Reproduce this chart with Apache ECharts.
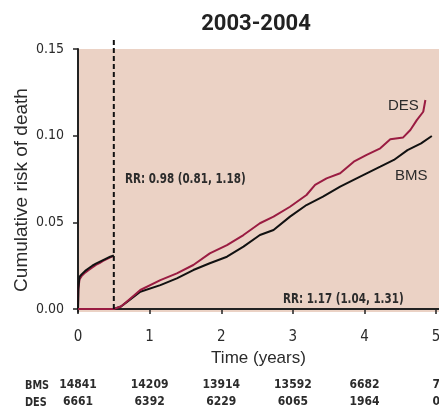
<!DOCTYPE html>
<html><head><meta charset="utf-8">
<script src="https://cdn.jsdelivr.net/npm/echarts@6/dist/echarts.min.js"></script>
<style>html,body{margin:0;padding:0;background:#fff}#c{width:439px;height:409px}</style>
</head><body><div id="c"></div>
<script>
// ---- data ----
const title = '2003-2004';
const yTicks = [0, 0.05, 0.10, 0.15];
const xTicks = [0, 1, 2, 3, 4, 5];
const bmsAtRisk = ['14841', '14209', '13914', '13592', '6682', '7'];
const desAtRisk = ['6661', '6392', '6229', '6065', '1964', '0'];
// first landmark segment (0 - 0.5 years)
const seg1Time = [0, 0.005, 0.02, 0.05, 0.1, 0.15, 0.2, 0.25, 0.3, 0.35, 0.4, 0.45, 0.5];
const bmsSeg1  = [0, 0.012, 0.0185, 0.020, 0.022, 0.0235, 0.025, 0.0262, 0.0272, 0.0282, 0.0292, 0.0302, 0.031];
const desSeg1  = [0, 0.011, 0.017, 0.019, 0.021, 0.0225, 0.024, 0.0255, 0.0265, 0.0278, 0.0288, 0.0298, 0.0305];
// second landmark segment (from 0.5 years)
const bmsSeg2Time = [0, 0.5, 0.6, 0.68, 0.87, 1.15, 1.38, 1.61, 1.84, 2.08, 2.31, 2.54, 2.73, 2.96, 3.19, 3.42, 3.66, 3.89, 4.03, 4.22, 4.41, 4.6, 4.79, 4.94];
const bmsSeg2     = [0, 0, 0.0015, 0.004, 0.010, 0.0138, 0.0177, 0.0225, 0.0264, 0.0302, 0.036, 0.0427, 0.0456, 0.0533, 0.060, 0.0648, 0.0706, 0.0754, 0.0783, 0.0821, 0.086, 0.0917, 0.0956, 0.0998];
const desSeg2Time = [0, 0.5, 0.6, 0.68, 0.87, 1.15, 1.38, 1.61, 1.84, 2.08, 2.31, 2.54, 2.73, 2.96, 3.19, 3.31, 3.47, 3.66, 3.85, 4.03, 4.22, 4.36, 4.54, 4.64, 4.73, 4.82, 4.84, 4.85];
const desSeg2     = [0, 0, 0.0015, 0.0042, 0.011, 0.0167, 0.0206, 0.0254, 0.0321, 0.0369, 0.0427, 0.0495, 0.0533, 0.059, 0.0658, 0.0716, 0.0754, 0.0783, 0.085, 0.0889, 0.0927, 0.0979, 0.099, 0.1033, 0.109, 0.1138, 0.1138, 0.1206];
// landmark (dashed) line: x position and vertical extent
const landmarkTime = [0.5, 0.5];
const landmarkRisk = [0, 0.1555];
const rrEarly = 'RR: 0.98 (0.81, 1.18)';
const rrLate = 'RR: 1.17 (1.04, 1.31)';

const zip = (a, b) => a.map((t, i) => [t, b[i]]);
const NARROW = "'DejaVu Sans Condensed','DejaVu Sans',sans-serif";
const REG = "'Liberation Sans',Arial,sans-serif";
const TXT = '#2b2b2b';
const BMS_C = '#111111';
const DES_C = '#9a1c42';

const chart = echarts.init(document.getElementById('c'), null, {renderer: 'canvas'});
const lineS = (name, data, color) => ({
  type: 'line', name, data, showSymbol: false, symbol: 'none', smooth: false,
  lineStyle: {color, width: 2}, itemStyle: {color}, animation: false, z: 3
});
const tableAxis = (arr, offset) => ({
  type: 'value', gridIndex: 0, position: 'bottom', min: 0, max: 5.04, interval: 1, offset,
  axisLine: {show: false}, axisTick: {show: false}, splitLine: {show: false},
  axisLabel: {margin: 8, fontFamily: NARROW, fontWeight: 'bold', fontSize: 12, color: TXT, showMaxLabel: false,
    formatter: v => { const i = xTicks.indexOf(Math.round(v * 100) / 100); return i >= 0 ? arr[i] : ''; }}
});

chart.setOption({
  animation: false,
  title: {text: title, left: 251, top: 8, textAlign: 'center',
    textStyle: {fontFamily: 'Roboto, sans-serif', fontWeight: 'bold', fontSize: 22, color: '#222'}},
  grid: {left: 78, right: 0, top: 49, bottom: 97, show: true, backgroundColor: '#ebd2c5', borderWidth: 0,
    containLabel: false, outerBoundsMode: 'none'},
  xAxis: [{
    type: 'value', min: 0, max: 5.04, interval: 1, offset: 8,
    name: 'Time (years)', nameLocation: 'middle', nameGap: 27,
    nameTextStyle: {fontFamily: REG, fontSize: 17, color: TXT},
    axisLine: {show: true, lineStyle: {color: '#222', width: 2}},
    axisTick: {show: true, length: 5, customValues: xTicks, lineStyle: {color: '#222', width: 1.5}},
    axisLabel: {margin: 10, fontFamily: NARROW, fontSize: 15, color: TXT, customValues: xTicks},
    splitLine: {show: false}
  }, tableAxis(bmsAtRisk, 59), tableAxis(desAtRisk, 76)],
  yAxis: {
    type: 'value', min: -0.0017, max: 0.15,
    axisLine: {show: true, lineStyle: {color: '#222', width: 2}},
    axisTick: {show: true, length: 5, customValues: yTicks, lineStyle: {color: '#222', width: 1.5}},
    axisLabel: {margin: 14, fontFamily: NARROW, fontSize: 14, color: TXT, customValues: yTicks,
      formatter: v => v.toFixed(2)},
    splitLine: {show: false}
  },
  series: [
    lineS('BMS', zip(bmsSeg2Time, bmsSeg2), BMS_C),
    lineS('DES', zip(seg1Time, desSeg1), DES_C),
    lineS('BMS', zip(seg1Time, bmsSeg1), BMS_C),
    lineS('DES', zip(desSeg2Time, desSeg2), DES_C),
    {type: 'line', name: 'landmark', data: zip(landmarkTime, landmarkRisk), clip: false,
      showSymbol: false, symbol: 'none', silent: true, animation: false, z: 4,
      lineStyle: {color: '#111', width: 2, type: [5, 3]}}
  ],
  graphic: [
    {type: 'text', x: 22, y: 190, rotation: Math.PI / 2, style: {text: 'Cumulative risk of death', fontFamily: REG, fontSize: 19, fill: TXT, align: 'center', verticalAlign: 'middle'}},
    {type: 'text', x: 125, y: 179, scaleX: 0.82, style: {text: rrEarly, fontFamily: NARROW, fontWeight: 'bold', fontSize: 14, fill: TXT, verticalAlign: 'middle'}},
    {type: 'text', x: 283, y: 299, scaleX: 0.82, style: {text: rrLate, fontFamily: NARROW, fontWeight: 'bold', fontSize: 14, fill: TXT, verticalAlign: 'middle'}},
    {type: 'text', x: 388, y: 106, style: {text: 'DES', fontFamily: REG, fontSize: 15, fill: TXT, verticalAlign: 'middle'}},
    {type: 'text', x: 395, y: 176, style: {text: 'BMS', fontFamily: REG, fontSize: 15, fill: TXT, verticalAlign: 'middle'}},
    {type: 'text', x: 25, y: 386, scaleX: 0.9, style: {text: 'BMS', fontFamily: NARROW, fontWeight: 'bold', fontSize: 12, fill: TXT, verticalAlign: 'middle'}},
    {type: 'text', x: 25, y: 403, scaleX: 0.9, style: {text: 'DES', fontFamily: NARROW, fontWeight: 'bold', fontSize: 12, fill: TXT, verticalAlign: 'middle'}}
  ]
});
</script></body></html>
